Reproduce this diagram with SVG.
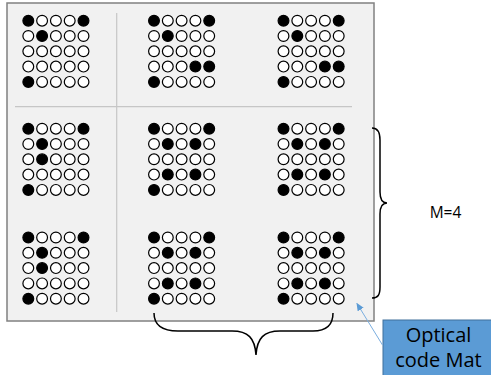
<svg xmlns="http://www.w3.org/2000/svg" xmlns:xlink="http://www.w3.org/1999/xlink" width="491" height="375" viewBox="0 0 491 375">
<style>
.o{fill:#fff;stroke:#000;stroke-width:1.2}
.f{fill:#000;stroke:#000;stroke-width:1.2}
.div{stroke:#c6c6c6;stroke-width:1.2;fill:none}
.brace{fill:none;stroke:#000;stroke-width:1.5}
.lbl{font-family:"Open Sans","Noto Sans","Liberation Sans",sans-serif;fill:#000}
</style>
<defs>
<circle id="o" r="5.4" class="o"/>
<circle id="f" r="5.4" class="f"/>
<marker id="ah" markerWidth="8" markerHeight="8" refX="7" refY="4" orient="auto" markerUnits="userSpaceOnUse">
<path d="M0,0.5 L8,4 L0,7.5 z" fill="#5b9bd5"/>
</marker>
<g id="pA">
<use href="#f" x="0" y="0"/><use href="#o" x="13.8" y="0"/><use href="#o" x="27.6" y="0"/><use href="#o" x="41.4" y="0"/><use href="#f" x="55.2" y="0"/>
<use href="#o" x="0" y="15.3"/><use href="#f" x="13.8" y="15.3"/><use href="#o" x="27.6" y="15.3"/><use href="#o" x="41.4" y="15.3"/><use href="#o" x="55.2" y="15.3"/>
<use href="#o" x="0" y="30.6"/><use href="#o" x="13.8" y="30.6"/><use href="#o" x="27.6" y="30.6"/><use href="#o" x="41.4" y="30.6"/><use href="#o" x="55.2" y="30.6"/>
<use href="#o" x="0" y="45.9"/><use href="#o" x="13.8" y="45.9"/><use href="#o" x="27.6" y="45.9"/><use href="#o" x="41.4" y="45.9"/><use href="#o" x="55.2" y="45.9"/>
<use href="#f" x="0" y="61.2"/><use href="#o" x="13.8" y="61.2"/><use href="#o" x="27.6" y="61.2"/><use href="#o" x="41.4" y="61.2"/><use href="#o" x="55.2" y="61.2"/>
</g>
<g id="pB">
<use href="#f" x="0" y="0"/><use href="#o" x="13.8" y="0"/><use href="#o" x="27.6" y="0"/><use href="#o" x="41.4" y="0"/><use href="#f" x="55.2" y="0"/>
<use href="#o" x="0" y="15.3"/><use href="#f" x="13.8" y="15.3"/><use href="#o" x="27.6" y="15.3"/><use href="#o" x="41.4" y="15.3"/><use href="#o" x="55.2" y="15.3"/>
<use href="#o" x="0" y="30.6"/><use href="#o" x="13.8" y="30.6"/><use href="#o" x="27.6" y="30.6"/><use href="#o" x="41.4" y="30.6"/><use href="#o" x="55.2" y="30.6"/>
<use href="#o" x="0" y="45.9"/><use href="#o" x="13.8" y="45.9"/><use href="#o" x="27.6" y="45.9"/><use href="#f" x="41.4" y="45.9"/><use href="#f" x="55.2" y="45.9"/>
<use href="#f" x="0" y="61.2"/><use href="#o" x="13.8" y="61.2"/><use href="#o" x="27.6" y="61.2"/><use href="#o" x="41.4" y="61.2"/><use href="#o" x="55.2" y="61.2"/>
</g>
<g id="pC">
<use href="#f" x="0" y="0"/><use href="#o" x="13.8" y="0"/><use href="#o" x="27.6" y="0"/><use href="#o" x="41.4" y="0"/><use href="#f" x="55.2" y="0"/>
<use href="#o" x="0" y="15.3"/><use href="#f" x="13.8" y="15.3"/><use href="#o" x="27.6" y="15.3"/><use href="#o" x="41.4" y="15.3"/><use href="#o" x="55.2" y="15.3"/>
<use href="#o" x="0" y="30.6"/><use href="#f" x="13.8" y="30.6"/><use href="#o" x="27.6" y="30.6"/><use href="#o" x="41.4" y="30.6"/><use href="#o" x="55.2" y="30.6"/>
<use href="#o" x="0" y="45.9"/><use href="#o" x="13.8" y="45.9"/><use href="#o" x="27.6" y="45.9"/><use href="#o" x="41.4" y="45.9"/><use href="#o" x="55.2" y="45.9"/>
<use href="#f" x="0" y="61.2"/><use href="#o" x="13.8" y="61.2"/><use href="#o" x="27.6" y="61.2"/><use href="#o" x="41.4" y="61.2"/><use href="#o" x="55.2" y="61.2"/>
</g>
<g id="pD">
<use href="#f" x="0" y="0"/><use href="#o" x="13.8" y="0"/><use href="#o" x="27.6" y="0"/><use href="#o" x="41.4" y="0"/><use href="#f" x="55.2" y="0"/>
<use href="#o" x="0" y="15.3"/><use href="#f" x="13.8" y="15.3"/><use href="#o" x="27.6" y="15.3"/><use href="#f" x="41.4" y="15.3"/><use href="#o" x="55.2" y="15.3"/>
<use href="#o" x="0" y="30.6"/><use href="#o" x="13.8" y="30.6"/><use href="#o" x="27.6" y="30.6"/><use href="#o" x="41.4" y="30.6"/><use href="#o" x="55.2" y="30.6"/>
<use href="#o" x="0" y="45.9"/><use href="#f" x="13.8" y="45.9"/><use href="#o" x="27.6" y="45.9"/><use href="#f" x="41.4" y="45.9"/><use href="#o" x="55.2" y="45.9"/>
<use href="#f" x="0" y="61.2"/><use href="#o" x="13.8" y="61.2"/><use href="#o" x="27.6" y="61.2"/><use href="#o" x="41.4" y="61.2"/><use href="#o" x="55.2" y="61.2"/>
</g>
</defs>

<g id="mat">
<rect x="7" y="3" width="367" height="318" fill="#f1f1f1" stroke="#808080" stroke-width="1.5"/>
<line class="div" x1="116.7" y1="13" x2="116.7" y2="312"/>
<line class="div" x1="15" y1="106.7" x2="352" y2="106.7"/>
</g>

<g id="code-r1c1"><use href="#pA" x="28.3" y="20.7"/></g>
<g id="code-r1c2"><use href="#pB" x="154" y="20.7"/></g>
<g id="code-r1c3"><use href="#pB" x="283.5" y="20.7"/></g>
<g id="code-r2c1"><use href="#pC" x="28.3" y="128.7"/></g>
<g id="code-r2c2"><use href="#pD" x="154" y="128.7"/></g>
<g id="code-r2c3"><use href="#pD" x="283.5" y="128.7"/></g>
<g id="code-r3c1"><use href="#pC" x="28.3" y="237.5"/></g>
<g id="code-r3c2"><use href="#pD" x="154" y="237.5"/></g>
<g id="code-r3c3"><use href="#pD" x="283.5" y="237.5"/></g>

<g id="brace-right">
<path class="brace" d="M372,128 C378,128 380,132 380,140 L380,192 C380,199 382,203 387,203 C382,203 380,207 380,214 L380,287 C380,295 378,298 372,298"/>
<text class="lbl" x="445.5" y="218" font-size="15.5" text-anchor="middle">M=4</text>
</g>

<g id="brace-bottom">
<path class="brace" d="M154,313 C154,325 162,331 178,331 L232,331 C248,331 255,338 256,355 C257,338 264,331 280,331 L313,331 C326,331 333,325 333,313"/>
</g>

<g id="label-box">
<rect x="383" y="320" width="112" height="60" fill="#5b9bd5" stroke="#41719c" stroke-width="1"/>
<text class="lbl" x="438.5" y="342" font-size="20" text-anchor="middle">Optical</text>
<text class="lbl" x="438.5" y="367" font-size="20" text-anchor="middle">code Mat</text>
</g>

<g id="connectors">
<line x1="382.5" y1="345" x2="357" y2="303.5" stroke="#7aaee0" stroke-width="1" marker-end="url(#ah)"/>
</g>
</svg>
